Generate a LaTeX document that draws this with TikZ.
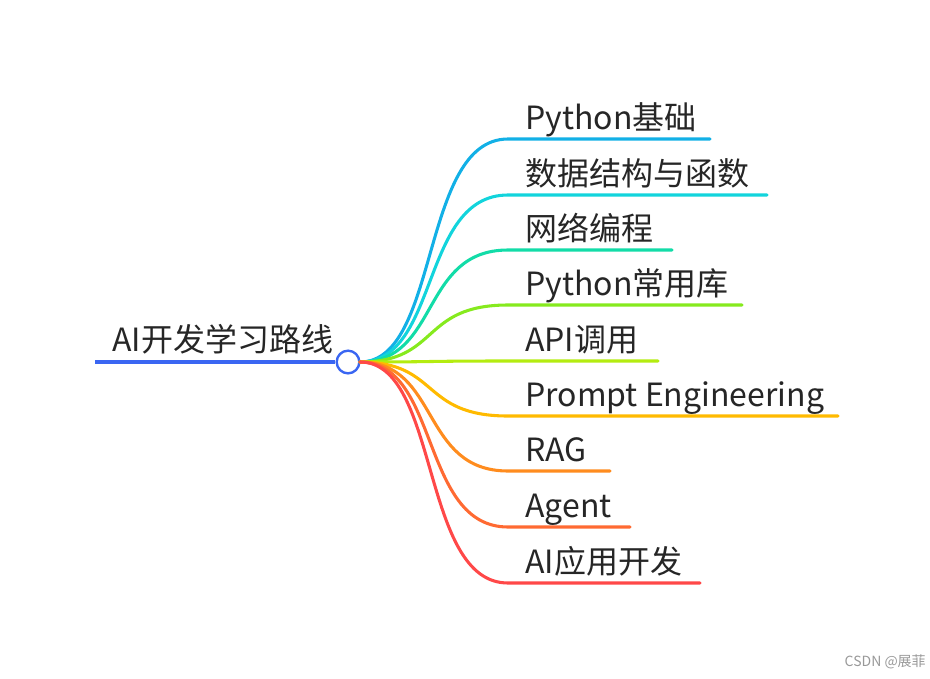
\documentclass[tikz,border=0pt]{standalone}
\usepackage{fontspec}
\setmainfont{Noto Sans CJK SC}[Scale=1]
\usetikzlibrary{positioning}

\definecolor{rootblue}{HTML}{3A66F2}
\definecolor{bA}{HTML}{12B0E6}
\definecolor{bB}{HTML}{12D4DC}
\definecolor{bC}{HTML}{12DCA8}
\definecolor{bD}{HTML}{86EA1E}
\definecolor{bE}{HTML}{B4EC10}
\definecolor{bF}{HTML}{FFBA00}
\definecolor{bG}{HTML}{FF8C1E}
\definecolor{bH}{HTML}{FF6A32}
\definecolor{bI}{HTML}{FF4848}

\tikzset{
  topictext/.style={anchor=base west, inner sep=0pt, text=black!85, font=\fontsize{24}{28}\selectfont},
  branch/.style={line width=2.3pt, line cap=round},
}

\begin{document}
\begin{tikzpicture}[x=0.75pt,y=-0.75pt]
\useasboundingbox (0,0) rectangle (930,678);
% root
\coordinate (rootstart) at (95,362);
\node[circle, draw=rootblue, fill=white, line width=1.8pt, minimum size=17pt, inner sep=0pt] (hub) at (348,362) {};
\draw[rootblue, line width=3pt] (rootstart) -- (hub.west);
\node[topictext] (root) at (112,351) {AI开发学习路线};
\coordinate (src) at (360,362);
% branches
\foreach \name/\col/\yy/\xend [count=\i] in {
  Python基础/bA/139/710,
  数据结构与函数/bB/195/767,
  网络编程/bC/250/672,
  Python常用库/bD/305/742,
  API调用/bE/361/658,
  Prompt Engineering/bF/416/838,
  RAG/bG/471/610,
  Agent/bH/527/630,
  AI应用开发/bI/583/700}{
  \coordinate (k\i) at (508,\yy);
  \coordinate (e\i) at (\xend,\yy);
  \draw[branch, \col] (src) .. controls (440,362) and (420,\yy) .. (k\i) -- (e\i);
  \node[topictext] (t\i) at (525,\yy-10) {\name};
}
% watermark
\node[anchor=east, inner sep=0pt, text=black!40, font=\fontsize{10.5}{12}\selectfont] (mark) at (926,662) {CSDN @展菲};
\end{tikzpicture}
\end{document}
